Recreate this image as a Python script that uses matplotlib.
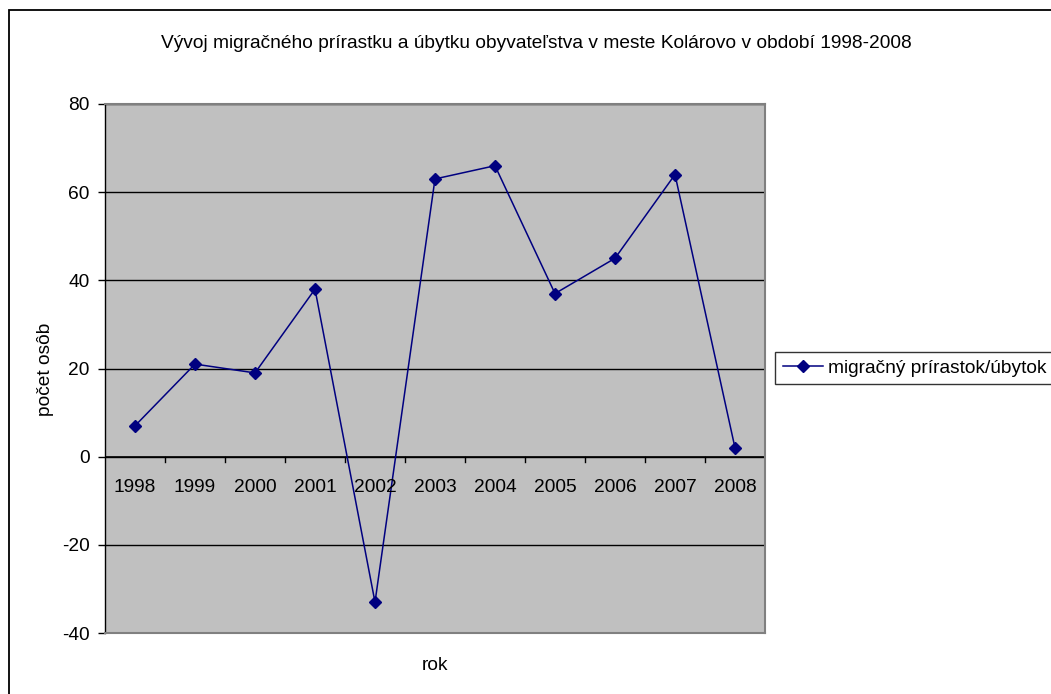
import matplotlib.pyplot as plt
from matplotlib.patches import Rectangle

# Data
years = ['1998', '1999', '2000', '2001', '2002', '2003', '2004', '2005', '2006', '2007', '2008']
migration = [7, 21, 19, 38, -33, 63, 66, 37, 45, 64, 2]
y_ticks = [-40, -20, 0, 20, 40, 60, 80]

plt.rcParams['font.family'] = ['Liberation Sans', 'DejaVu Sans']
fs = 13.8

W, H = 1051, 694
fig = plt.figure(figsize=(W / 100, H / 100), dpi=100)
fig.patch.set_facecolor('white')

# outer chart border (runs off the right/bottom edge)
fig.patches.append(Rectangle((9 / W, -0.05), 1.2, 1 - 10 / H + 0.05, transform=fig.transFigure,
                             fill=False, edgecolor='black', linewidth=1.3))

ax = fig.add_axes([105 / W, 1 - 633 / H, 660 / W, 529 / H])
ax.set_facecolor('#C0C0C0')

x = list(range(len(years)))
ax.plot(x, migration, color='#000080', linewidth=1.1, marker='D', markersize=6,
        label='migračný prírastok/úbytok')

ax.set_xlim(-0.5, len(years) - 0.5)
ax.set_ylim(-40, 80)
ax.set_yticks(y_ticks)
ax.set_yticklabels([str(v) for v in y_ticks], fontsize=fs)
ax.tick_params(axis='y', direction='out', length=5, width=1, pad=6)
ax.yaxis.grid(True, color='black', linewidth=1)
ax.set_axisbelow(True)

for s in ['top', 'right', 'bottom']:
    ax.spines[s].set_color('#808080')
    ax.spines[s].set_linewidth(1.5)
ax.spines['left'].set_color('black')
ax.spines['left'].set_linewidth(1)

# category axis sits at y = 0
ax.set_xticks([])
ax.axhline(0, color='black', linewidth=1.2, zorder=1.5)
for i in range(1, len(years)):
    ax.plot([i - 0.5, i - 0.5], [0, -1.3], color='black', linewidth=1, zorder=1.5)
for i, yr in enumerate(years):
    ax.text(i, -7, yr, ha='center', va='center', fontsize=fs)

fig.text(45 / W, 1 - 369 / H, 'počet osôb', ha='center', va='center', rotation=90, fontsize=fs)
fig.text(435 / W, 1 - 665 / H, 'rok', ha='center', va='center', fontsize=fs)
fig.text(536 / W, 1 - 43 / H, 'Vývoj migračného prírastku a úbytku obyvateľstva v meste Kolárovo v období 1998-2008',
         ha='center', va='center', fontsize=fs)

# legend box runs off the right edge, as in the original
leg = fig.legend(loc='center left', bbox_to_anchor=(775 / W, 1 - 368 / H), fontsize=fs,
                 frameon=True, fancybox=False, handlelength=2.1, borderpad=0.4,
                 handletextpad=0.25, borderaxespad=0)
leg.get_frame().set_edgecolor('black')
leg.get_frame().set_linewidth(1)

fig.savefig('out.png', dpi=100)
